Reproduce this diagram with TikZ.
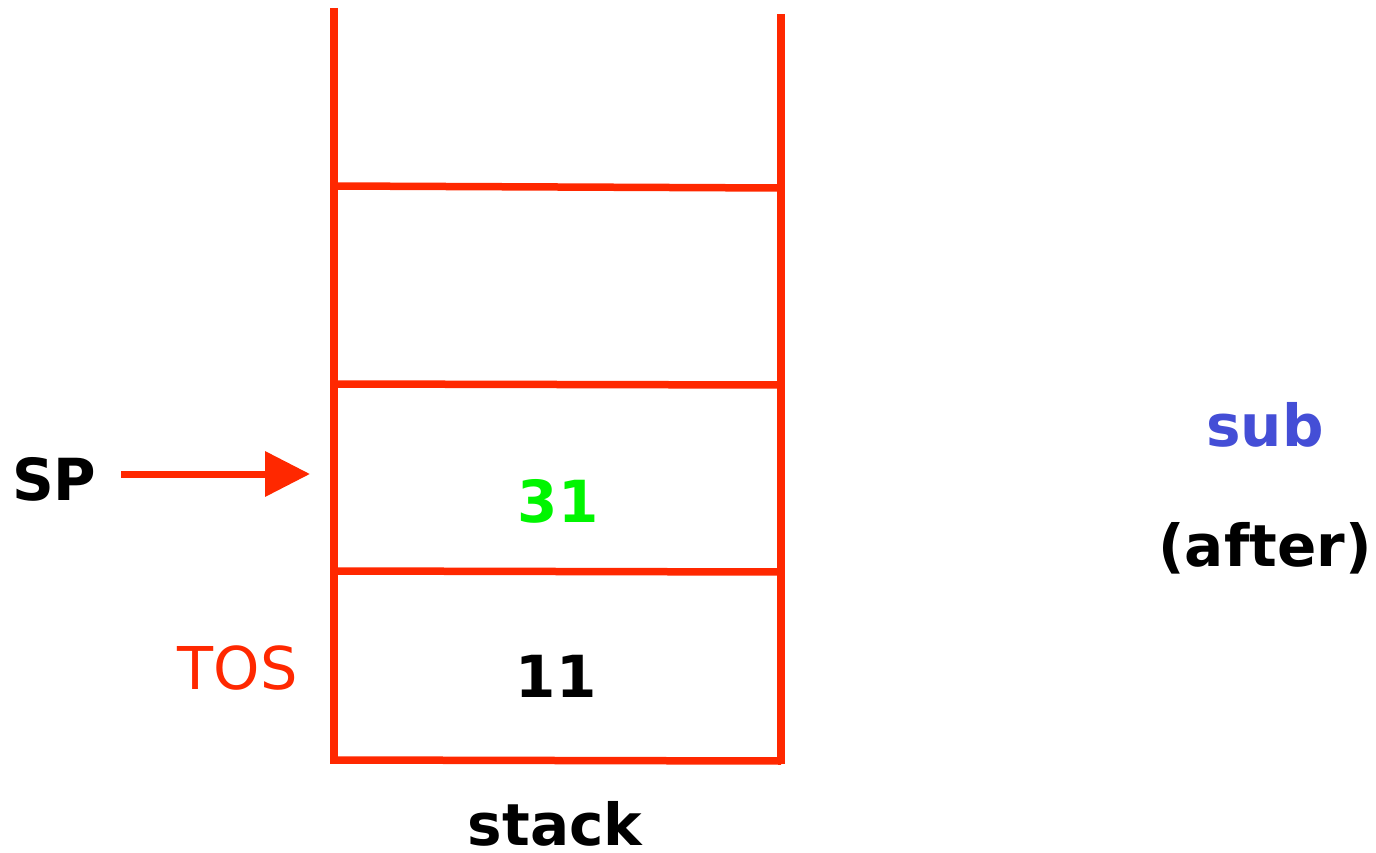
\documentclass[tikz,border=0pt]{standalone}
\usepackage{fontspec}
\setmainfont{DejaVu Sans}
\usetikzlibrary{arrows.meta}
\definecolor{stackred}{RGB}{255,40,0}
\definecolor{valgreen}{RGB}{0,245,0}
\definecolor{opblue}{RGB}{68,78,214}
\tikzset{
  wall/.style={draw=stackred, line width=7.5pt, line cap=butt},
  ptr/.style={draw=stackred, line width=7pt, -{Triangle[length=45pt,width=44pt]}, fill=stackred},
  bigbold/.style={font=\fontsize{58}{64}\selectfont\bfseries, inner sep=0pt, anchor=base},
  lbl/.style={font=\fontsize{59}{65}\selectfont, inner sep=0pt, anchor=base east}
}
\begin{document}
\begin{tikzpicture}[x=1pt,y=-1pt]
\useasboundingbox (0,0) rectangle (1376,853);
% stack walls
\coordinate (lt) at (334,8);
\coordinate (lb) at (334,764);
\coordinate (rt) at (781,14);
\coordinate (rb) at (781,764);
\draw[wall] (lt) -- (lb);
\draw[wall] (rt) -- (rb);
% cell dividers
\coordinate (h1l) at (334,186); \coordinate (h1r) at (781,188);
\coordinate (h2l) at (334,384); \coordinate (h2r) at (781,385);
\coordinate (h3l) at (334,571); \coordinate (h3r) at (781,572);
\coordinate (h4l) at (334,760); \coordinate (h4r) at (781,761);
\draw[wall] (h1l) -- (h1r);
\draw[wall] (h2l) -- (h2r);
\draw[wall] (h3l) -- (h3r);
\draw[wall] (h4l) -- (h4r);
% labels
\node[bigbold, anchor=base west] (sp) at (12,500) {SP};
\node[bigbold, text=valgreen] (v31) at (558,522) {31};
\node[bigbold] (v11) at (556,697) {11};
\node[lbl, text=stackred] (tos) at (298,689) {TOS};
\node[bigbold] (stk) at (555,845) {stack};
\node[bigbold, text=opblue] (sub) at (1265,446) {sub};
\node[bigbold] (aft) at (1265,566) {(after)};
% stack pointer arrow
\coordinate (aS) at (121,474);
\coordinate (aE) at (310,474);
\draw[ptr] (aS) -- (aE);
\end{tikzpicture}
\end{document}
